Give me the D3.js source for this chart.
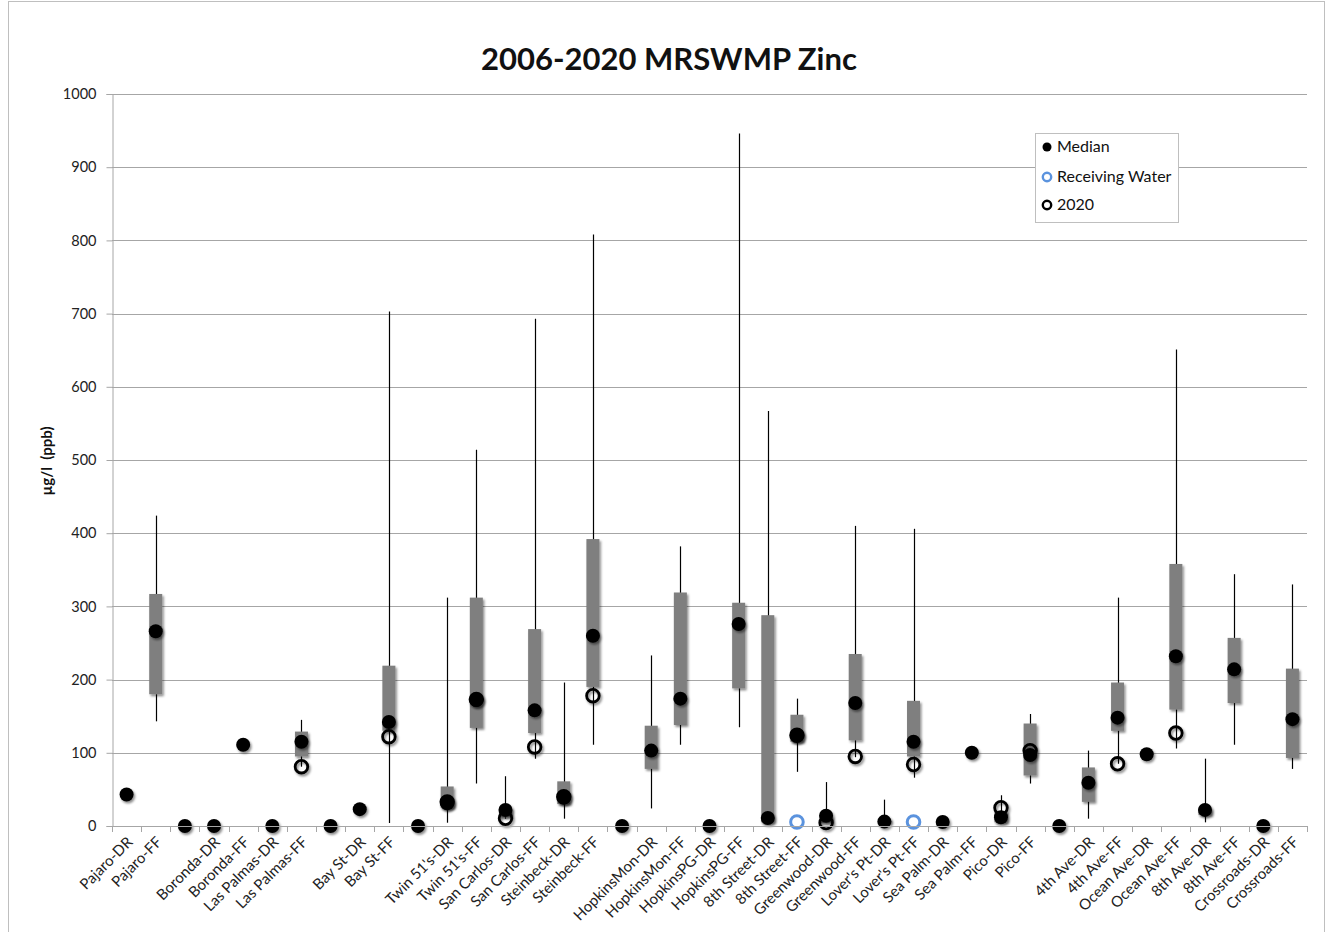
<!DOCTYPE html>
<html>
<head>
<meta charset="utf-8">
<script src="https://cdn.jsdelivr.net/npm/d3@7"></script>
<style>
html,body{margin:0;padding:0;background:#fff;}
svg{display:block;font-family:Lato,"Open Sans",sans-serif;}
</style>
</head>
<body>
<svg id="chart" width="1330" height="932"></svg>
<script>
const categories = ["Pajaro-DR","Pajaro-FF","","Boronda-DR","Boronda-FF","Las Palmas-DR","Las Palmas-FF","","Bay St-DR","Bay St-FF","",
  "Twin 51's-DR","Twin 51's-FF","San Carlos-DR","San Carlos-FF","Steinbeck-DR","Steinbeck-FF","",
  "HopkinsMon-DR","HopkinsMon-FF","HopkinsPG-DR","HopkinsPG-FF","8th Street-DR","8th Street-FF",
  "Greenwood-DR","Greenwood-FF","Lover's Pt-DR","Lover's Pt-FF","Sea Palm-DR","Sea Palm-FF","Pico-DR","Pico-FF","",
  "4th Ave-DR","4th Ave-FF","Ocean Ave-DR","Ocean Ave-FF","8th Ave-DR","8th Ave-FF","Crossroads-DR","Crossroads-FF"];
const minVals =    [null,143,null,null,null,null,81,null,null,4,null,  4.5,58,10,92,10,111,null, 24,111,null,135,5,74, 4,94,5,66,null,null,5,58,null, 10,85,null,106,5,111,null,78];
const q1Vals =     [null,180,null,null,null,null,95,null,null,130,null, 25,134,12,127,30,190,null, 78,138,null,188,5,115, 4,117,5,95,null,null,5,69,null, 33,130,null,159,15,168,null,93];
const medianVals = [43,266,0,0,111,0,115,0,23,142,0, 31,172,22,158,39,260,0, 103,174,0,276,11,124, 14,168,6,115,5.5,100,12,97,0, 59,148,98,232,22,214,0,146];
const q3Vals =     [null,317,null,null,null,null,129,null,null,219,null, 54,312,25,269,61,392,null, 137,319,null,305,288,152, 14,235,10,171,null,null,20,140,null, 80,196,null,358,25,257,null,215];
const maxVals =    [null,424,null,null,null,null,145,null,null,703,null, 312,514,68,693,196,808,null, 233,382,null,946,567,174, 60,410,36,406,null,null,42,153,null, 103,312,null,651,92,344,null,330];
const y2020Vals =  [null,null,null,null,null,null,81,null,null,122,null, 33,173,10.5,108,40,178,null, null,null,null,null,null,124, 4.6,95,null,84,null,null,25,103,null, null,85,null,127,null,null,null,null];
const rwVals =     [null,null,null,null,null,null,null,null,null,null,null, null,null,null,null,null,null,null, null,null,null,null,null,5.5, null,null,null,5.5,null,null,null,null,null, null,null,null,null,null,null,null,null];
const yTicks = [0,100,200,300,400,500,600,700,800,900,1000];
const legendItems = ["Median","Receiving Water","2020"];

const svg = d3.select("#chart");
const L = 112, R = 1307, T = 94, B = 826;
const idx = categories.map((d,i)=>i);
const x = d3.scaleBand().domain(idx).range([L,R]).padding(0);
const y = d3.scaleLinear().domain([0,1000]).range([B,T]);
const cx = i => x(i) + x.bandwidth()/2;

const defs = svg.append("defs");
const f = defs.append("filter").attr("id","sh").attr("x","-50%").attr("y","-50%").attr("width","200%").attr("height","200%");
f.append("feDropShadow").attr("dx",1.5).attr("dy",2).attr("stdDeviation",1.3).attr("flood-color","#000").attr("flood-opacity",0.45);

// outer border
svg.append("rect").attr("x",8.5).attr("y",1.5).attr("width",1316).attr("height",945)
  .attr("fill","none").attr("stroke","#bfbfbf").attr("stroke-width",1);

// gridlines
svg.append("g").selectAll("line").data(yTicks).join("line")
  .attr("x1",L).attr("x2",R).attr("y1",d=>Math.round(y(d))+0.5).attr("y2",d=>Math.round(y(d))+0.5)
  .attr("stroke","#a6a6a6").attr("stroke-width",1);

// y axis
const yAxis = svg.append("g").attr("transform",`translate(${L+0.5},0)`)
  .call(d3.axisLeft(y).tickValues(yTicks).tickSize(6).tickPadding(10).tickFormat(d3.format("d")));
yAxis.select(".domain").attr("stroke","#a6a6a6");
yAxis.selectAll(".tick line").attr("stroke","#a6a6a6");
yAxis.selectAll("text").attr("font-size",14.5).attr("fill","#222").attr("font-family","Lato");

// x axis ticks at boundaries
const bounds = d3.range(categories.length+1).map(i => L + i*x.bandwidth());
svg.append("g").selectAll("line").data(bounds).join("line")
  .attr("x1",d=>Math.round(d)+0.5).attr("x2",d=>Math.round(d)+0.5).attr("y1",B).attr("y2",B+6)
  .attr("stroke","#a6a6a6");

// x labels
svg.append("g").selectAll("text").data(idx.filter(i=>categories[i]!=="")).join("text")
  .attr("transform",i=>`translate(${cx(i)+7},${B+17}) rotate(-45)`)
  .attr("text-anchor","end").attr("font-size",15).attr("fill","#222")
  .text(i=>categories[i]);

// whiskers
const wh = idx.filter(i=>minVals[i]!=null && maxVals[i]!=null);
svg.append("g").selectAll("line").data(wh).join("line")
  .attr("x1",i=>Math.round(cx(i))+0.5).attr("x2",i=>Math.round(cx(i))+0.5)
  .attr("y1",i=>y(minVals[i])).attr("y2",i=>y(maxVals[i]))
  .attr("stroke","#000").attr("stroke-width",1.2);

// boxes
const bx = idx.filter(i=>q1Vals[i]!=null && q3Vals[i]!=null);
svg.append("g").selectAll("rect").data(bx).join("rect")
  .attr("x",i=>cx(i)-6.5).attr("width",13)
  .attr("y",i=>y(q3Vals[i])).attr("height",i=>Math.max(1,y(q1Vals[i])-y(q3Vals[i])))
  .attr("fill","#7f7f7f").attr("filter","url(#sh)");

// caps
const caps = [];
wh.forEach(i=>{caps.push({i,v:minVals[i]});caps.push({i,v:maxVals[i]});});
svg.append("g").selectAll("line").data(caps).join("line")
  .attr("x1",d=>cx(d.i)-6.5).attr("x2",d=>cx(d.i)+6.5)
  .attr("y1",d=>y(d.v)).attr("y2",d=>y(d.v))
  .attr("stroke","#000").attr("stroke-width",2.6).attr("filter","url(#sh)");

// median
svg.append("g").selectAll("circle").data(idx.filter(i=>medianVals[i]!=null)).join("circle")
  .attr("cx",cx).attr("cy",i=>y(medianVals[i])).attr("r",7)
  .attr("fill","#000").attr("filter","url(#sh)");

// receiving water
svg.append("g").selectAll("circle").data(idx.filter(i=>rwVals[i]!=null)).join("circle")
  .attr("cx",cx).attr("cy",i=>y(rwVals[i])).attr("r",6.3)
  .attr("fill","#fff").attr("stroke","#5b93de").attr("stroke-width",3);

// 2020
svg.append("g").selectAll("circle").data(idx.filter(i=>y2020Vals[i]!=null)).join("circle")
  .attr("cx",cx).attr("cy",i=>y(y2020Vals[i])).attr("r",6.3)
  .attr("fill","none").attr("stroke","#000").attr("stroke-width",2.8).attr("filter","url(#sh)");

// bottom axis line on top
svg.append("line").attr("x1",L).attr("x2",R).attr("y1",B+0.5).attr("y2",B+0.5).attr("stroke","#a6a6a6");

// title
svg.append("text").attr("x",669).attr("y",70).attr("text-anchor","middle")
  .attr("font-size",31).attr("font-weight","bold").attr("fill","#111").text("2006-2020 MRSWMP Zinc");

// y label
svg.append("text").attr("transform","translate(52,461) rotate(-90)").attr("text-anchor","middle")
  .attr("font-size",15).attr("font-weight","bold").attr("fill","#111").attr("xml:space","preserve").text("µg/l  (ppb)");

// legend
const lg = svg.append("g");
lg.append("rect").attr("x",1035.5).attr("y",133.5).attr("width",143).attr("height",89)
  .attr("fill","#fff").attr("stroke","#bfbfbf");
const ly = [147,177,205];
legendItems.forEach((t,k)=>{
  if(k===0) lg.append("circle").attr("cx",1047).attr("cy",ly[k]).attr("r",4.5).attr("fill","#000");
  else lg.append("circle").attr("cx",1047).attr("cy",ly[k]).attr("r",4.2).attr("fill","#fff")
        .attr("stroke",k===1?"#5b93de":"#000").attr("stroke-width",2.4);
  lg.append("text").attr("x",1057).attr("y",ly[k]+5).attr("font-size",16).attr("fill","#111").text(t);
});
</script>
</body>
</html>
